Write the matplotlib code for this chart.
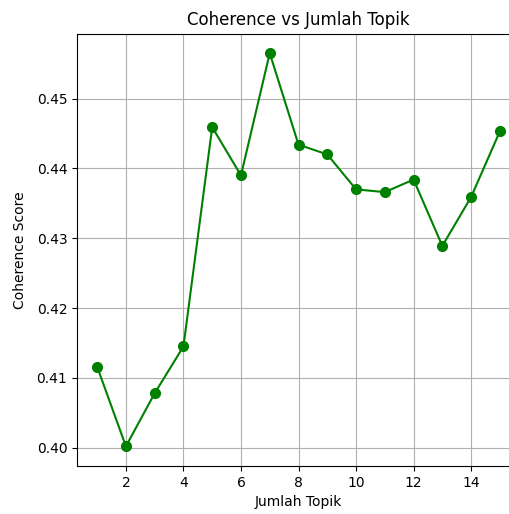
import matplotlib
matplotlib.use("Agg")
import matplotlib.pyplot as plt

# coherence score per number of topics
jumlah_topik = [1, 2, 3, 4, 5, 6, 7, 8, 9, 10, 11, 12, 13, 14, 15]
coherence = [0.4116, 0.4002, 0.4078, 0.4145, 0.4459, 0.4390, 0.4565, 0.4434,
             0.4420, 0.4370, 0.4366, 0.4384, 0.4289, 0.4359, 0.4453]

fig = plt.figure(figsize=(5.10, 5.14), dpi=100)
# right spine is cut off in the reference, so the axes run past the figure edge
ax = fig.add_axes([0.151, 0.0934, 0.8686, 0.8414])
ax.plot(jumlah_topik, coherence, marker="o", color="green", markersize=7)
ax.set_title("Coherence vs Jumlah Topik")
ax.set_xlabel("Jumlah Topik")
ax.set_ylabel("Coherence Score", labelpad=7)
ax.grid(True)

fig.savefig("out.png", dpi=100)
